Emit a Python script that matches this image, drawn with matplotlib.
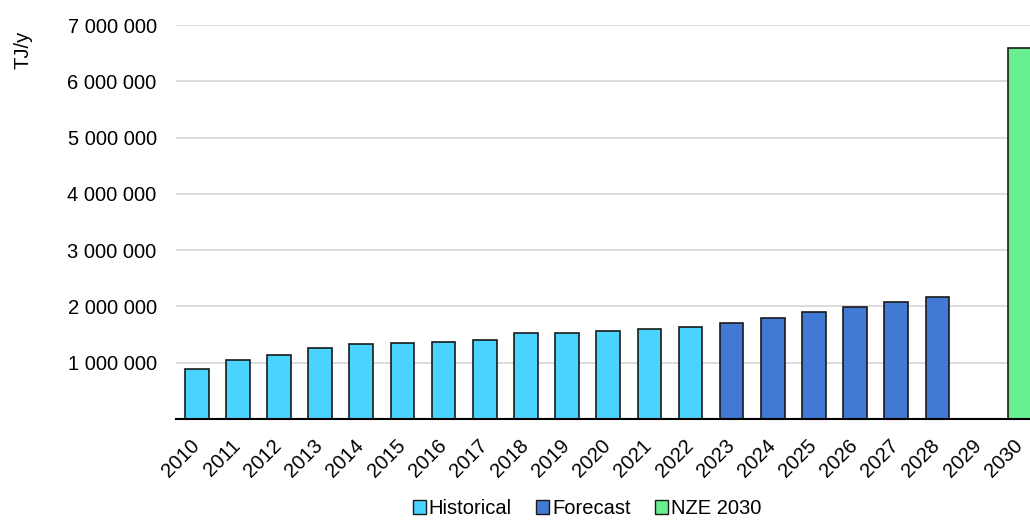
import numpy as np
import matplotlib.pyplot as plt
from matplotlib.patches import Patch
from matplotlib.ticker import FuncFormatter
from matplotlib.transforms import ScaledTranslation

plt.rcParams['font.family'] = ['Liberation Sans', 'DejaVu Sans']

years = [str(y) for y in range(2010, 2031)]
historical = [890000, 1040000, 1140000, 1255000, 1330000, 1355000, 1370000,
              1400000, 1520000, 1530000, 1560000, 1590000, 1630000]
forecast = [1705000, 1790000, 1895000, 1995000, 2070000, 2160000]
nze_2030 = [6590000]

colHist = '#4AD3FF'
colFore = '#4179D3'
colNze = '#68EF91'

fig = plt.figure(figsize=(10.30, 5.23), dpi=100)
ax = fig.add_axes([0.171, 0.199, 0.829, 0.753])

x = np.arange(len(years))
width = 0.575
edge = dict(edgecolor='#1a1a1a', linewidth=1.2)

ax.bar(x[:len(historical)], historical, width, color=colHist, **edge, zorder=3)
ax.bar(x[len(historical):len(historical) + len(forecast)], forecast, width, color=colFore, **edge, zorder=3)
ax.bar(x[-1:], nze_2030, width, color=colNze, **edge, zorder=3)

ax.set_xlim(-0.5, 20.25)
ax.set_ylim(0, 7000000)
ax.set_yticks(np.arange(1000000, 7000001, 1000000))
ax.yaxis.set_major_formatter(FuncFormatter(lambda v, p: f'{int(v):,}'.replace(',', ' ')))
ax.grid(axis='y', color='#d9d9d9', linewidth=1.3, zorder=0)

# year labels drawn as texts so they can sit a bit left of each tick, like the original
ax.set_xticks(x)
ax.set_xticklabels([])
labelTrans = ax.get_xaxis_transform() + ScaledTranslation(-7 / 100, -17 / 100, fig.dpi_scale_trans)
for xi, year in zip(x, years):
    ax.text(xi, 0, year, transform=labelTrans, rotation=45, ha='right', va='top',
            rotation_mode='anchor', fontsize=14.5, clip_on=False)

for s in ['left', 'right', 'top']:
    ax.spines[s].set_visible(False)
ax.spines['bottom'].set_color('black')
ax.spines['bottom'].set_linewidth(1.5)
ax.spines['bottom'].set_zorder(4)
ax.tick_params(axis='both', length=0, labelsize=14.5, colors='black')
ax.tick_params(axis='y', pad=14)

fig.text(0.022, 0.905, 'TJ/y', rotation=90, fontsize=14.5, ha='center', va='center')

handles = [Patch(facecolor=colHist, edgecolor='#1a1a1a', linewidth=1.0, label='Historical'),
           Patch(facecolor=colFore, edgecolor='#1a1a1a', linewidth=1.0, label='Forecast'),
           Patch(facecolor=colNze, edgecolor='#1a1a1a', linewidth=1.0, label='NZE 2030')]
fig.legend(handles=handles, loc='lower center', bbox_to_anchor=(0.57, -0.025), ncol=3,
           frameon=False, fontsize=14.5, handlelength=0.65, handleheight=0.65,
           handletextpad=0.15, columnspacing=1.2)

fig.savefig('out.png', dpi=100)
